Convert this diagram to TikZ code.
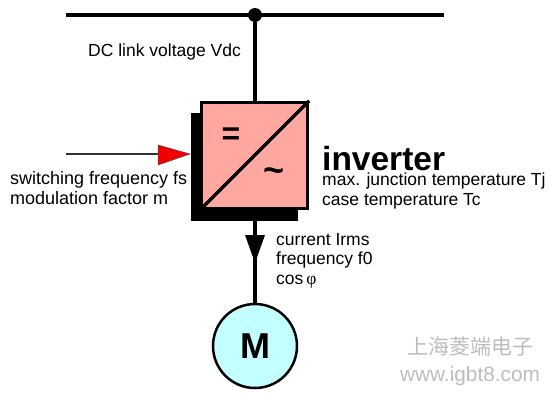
\documentclass[tikz,border=0pt]{standalone}
\usepackage{fontspec}
\setmainfont{Liberation Sans}
\newfontfamily\cjk{Noto Sans CJK SC}
\newfontfamily\phifont{Liberation Serif}
\usetikzlibrary{arrows.meta,positioning,backgrounds}
\definecolor{Lbox}{HTML}{FFA8A0}
\definecolor{Lmotor}{HTML}{C4FFFF}
\definecolor{Lred}{HTML}{F00000}
\definecolor{Lmark}{HTML}{BDBDBD}

\begin{document}
\begin{tikzpicture}[
  x=1pt, y=1pt, >=Latex, node distance=10pt,
  wire/.style    ={line width=3.5pt, black},
  junction/.style={circle, fill=black, inner sep=0pt, minimum size=14pt},
  conv/.style    ={draw=black, line width=3.5pt, fill=Lbox, minimum size=106pt, inner sep=0pt},
  motor/.style   ={circle, draw=black, line width=2.5pt, fill=Lmotor, minimum size=84pt, inner sep=0pt, font=\fontsize{36}{36}\selectfont\bfseries},
  lab/.style     ={align=left, inner sep=0pt, font=\fontsize{17.5}{19.5}\selectfont},
  wmark/.style   ={inner sep=0pt, text=Lmark},
]
\useasboundingbox (0,0) rectangle (558,-402);

% ── DC bus ───────────────────────────────────────────────────────────
\coordinate (busl) at (66,-15);
\coordinate (busr) at (444,-15);
\node[junction] (dot) at (255,-15) {};
\draw[wire] (busl) -- (busr);
\node[lab, anchor=base west] (vdc) at (88,-56) {DC link voltage Vdc};

% ── Inverter block ───────────────────────────────────────────────────
\node[conv] (conv) at (254.5,-155.5) {};
\node[font=\fontsize{32}{32}\selectfont\bfseries] (eq) at (231,-136) {=};
\node[font=\fontsize{36}{36}\selectfont\bfseries] (ac) at (274,-175) {\char"7E};
\draw[wire] (dot) -- (dot |- conv.north);
\draw[line width=3.5pt] (conv.north east) -- (conv.south west);

% ── Switching input ──────────────────────────────────────────────────
\coordinate (swin) at (66,-154);
\coordinate (swtip) at (190,-154);
\draw[line width=1.3pt, black!80] (swin) -- (158,-154);
\draw[fill=Lred, draw=black!70, line width=0.5pt] (swtip) -- (158,-145) -- (158,-165) -- cycle;
\node[lab, font=\fontsize{18}{19.5}\selectfont, anchor=base west] (sw) at (10,-204) {switching frequency fs\\modulation factor m};

% ── Labels ───────────────────────────────────────────────────────────
\node[inner sep=0pt, anchor=base west, font=\fontsize{33.5}{33.5}\selectfont\bfseries] (inv) at (322,-170) {inverter};
\node[lab, anchor=base west] (temp) at (322,-205) {max. junction temperature Tj\\case temperature Tc};

% ── Motor ────────────────────────────────────────────────────────────
\node[motor] (mot) at (255,-346) {M};
\coordinate (tip) at (255,-263);
\draw[wire] (dot |- conv.south) -- (mot);
\fill (tip) -- (245,-235) -- (265,-235) -- cycle;
\node[lab, anchor=base west] (cur) at (276,-284) {current Irms\\frequency f0\\cos\,{\phifont φ}};

% ── Watermark ────────────────────────────────────────────────────────
\node[wmark, font=\cjk\fontsize{21}{21}\selectfont, anchor=center] (wm) at (470,-347) {上海菱端电子};
\node[wmark, font=\fontsize{20.8}{20.8}\selectfont, below=9pt of wm] (url) {www.igbt8.com};

% ── Shadow on the background layer ───────────────────────────────────
\begin{scope}[on background layer]
  \fill (190.5,-113) rectangle (298,-221);
\end{scope}
\end{tikzpicture}
\end{document}
